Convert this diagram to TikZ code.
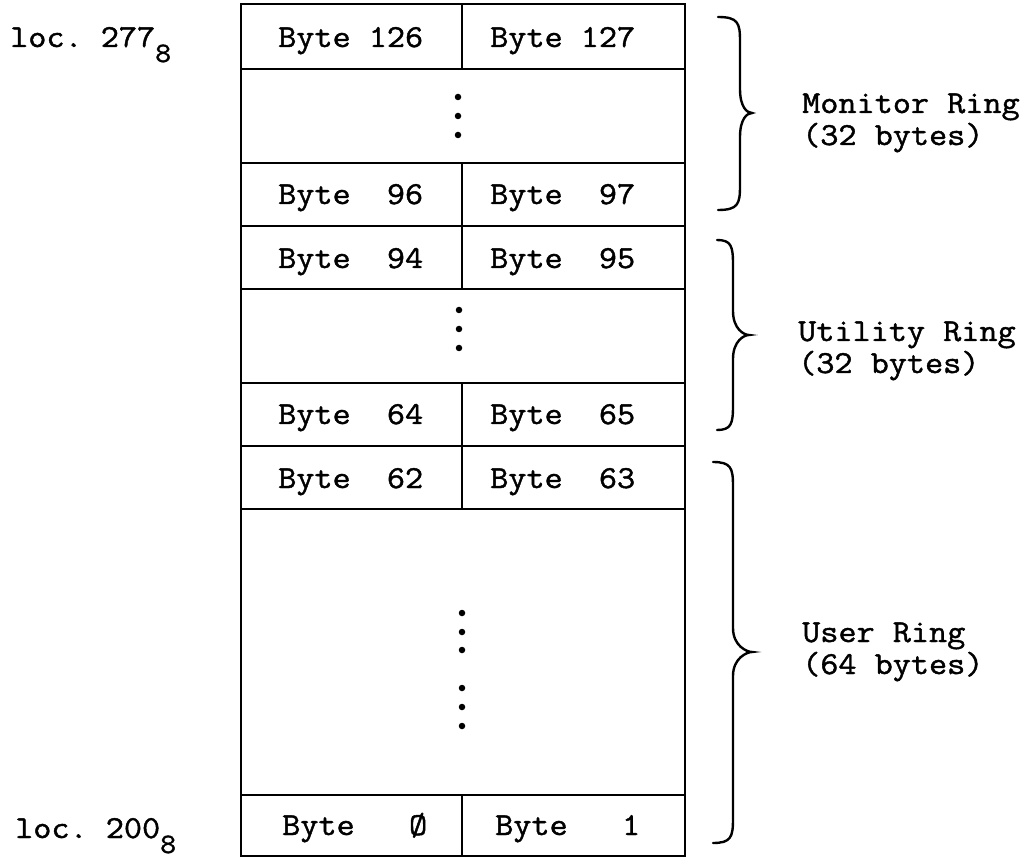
\documentclass[tikz,border=0pt]{standalone}
\usepackage{fontspec}
\setmonofont{Latin Modern Mono}[FakeStretch=1.1,FakeBold=1.3]
\newcommand{\ringbrace}[7]{% name, xl, xb, xt, y1, ym, y2
  \draw[bracestyle] (#2,#5) .. controls ({#3-2},#5) and (#3,{#5+6}) .. (#3,{#5+24})
    -- (#3,{#6-24}) .. controls (#3,{#6-6}) and ({#4-5},#6) .. (#4,#6)
    coordinate (#1)
    .. controls ({#4-5},#6) and (#3,{#6+6}) .. (#3,{#6+24})
    -- (#3,{#7-24}) .. controls (#3,{#7-6}) and ({#3-2},#7) .. (#2,#7);}
\begin{document}
\begin{tikzpicture}[x=1pt,y=-1pt,
  every node/.style={font=\ttfamily\fontsize{32}{32}\selectfont, inner sep=0pt},
  grid/.style={line width=2.8pt, line cap=rect},
  bracestyle/.style={line width=2.4pt, line cap=round},
  cell/.style={anchor=base west},
  ring/.style={anchor=base west, align=left},
  dot/.style={circle, fill=black, minimum size=6.5pt, inner sep=0pt}]
\useasboundingbox (0,0) rectangle (1036,858);
% outer frame and rows
\draw[grid] (241,4) rectangle (685,856);
\foreach \y in {69,163,226,289,383,446,509,795}
  \draw[grid] (241,\y) -- (685,\y);
\draw[grid] (462,4) -- (462,69);
\draw[grid] (462,163) -- (462,289);
\draw[grid] (462,383) -- (462,509);
\draw[grid] (462,795) -- (462,856);
% cell texts
\node[cell] (b126) at (278,47) {Byte 126};
\node[cell] (b127) at (490,47) {Byte 127};
\node[cell] (b96) at (278,204) {Byte~~96};
\node[cell] (b97) at (490,204) {Byte~~97};
\node[cell] (b94) at (278,268) {Byte~~94};
\node[cell] (b95) at (490,268) {Byte~~95};
\node[cell] (b64) at (278,424) {Byte~~64};
\node[cell] (b65) at (490,424) {Byte~~65};
\node[cell] (b62) at (278,488) {Byte~~62};
\node[cell] (b63) at (490,488) {Byte~~63};
\node[cell] (b0) at (282,835) {Byte~~~Ø};
\node[cell] (b1) at (495,835) {Byte~~~1};
% dots
\foreach \y [count=\i] in {97,116,135} \node[dot] (dm\i) at (458,\y) {};
\foreach \y [count=\i] in {310,329,348} \node[dot] (dt\i) at (459,\y) {};
\foreach \y [count=\i] in {613,632,650,688,707,726} \node[dot] (du\i) at (462,\y) {};
% location labels
\node[anchor=base west] (loctop) at (10,47) {loc.~277\raisebox{-15pt}{\fontsize{28}{28}\selectfont 8}};
\node[anchor=base west] (locbot) at (15,838) {loc.~200\raisebox{-15pt}{\fontsize{28}{28}\selectfont 8}};
% braces
\ringbrace{tipM}{718}{740}{752}{17}{113}{210}
\ringbrace{tipT}{717}{733}{749}{240}{335}{430}
\ringbrace{tipU}{713}{733}{752}{462}{652}{843}
% ring labels (base = last line)
\node[ring] (mon) at (802,145) {Monitor Ring\\(32 bytes)};
\node[ring] (uti) at (798,373) {Utility Ring\\(32 bytes)};
\node[ring] (usr) at (802,674) {User Ring\\(64 bytes)};
\end{tikzpicture}
\end{document}
